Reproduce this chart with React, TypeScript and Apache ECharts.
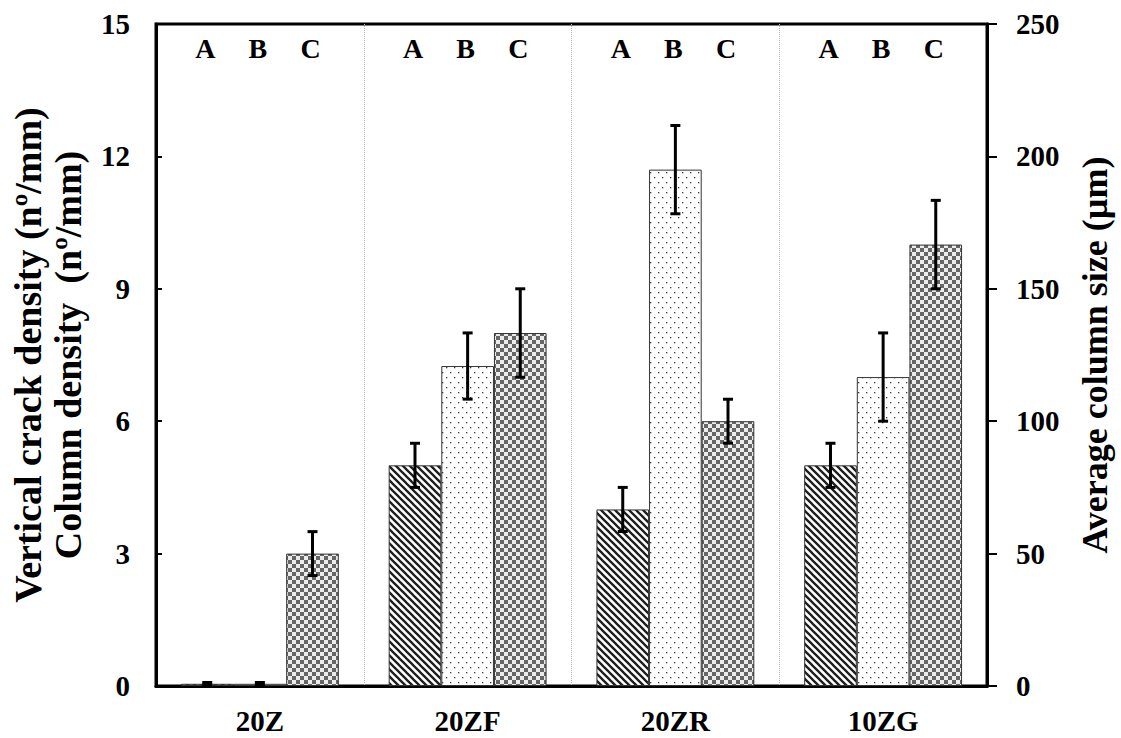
import React, { useEffect, useRef } from "react";
import * as echarts from "echarts";

const categories = ["20Z", "20ZF", "20ZR", "10ZG"];
const groupLetters = ["A", "B", "C"];
// A: vertical crack density (nº/mm), left axis
const crackDensity = [0.05, 5, 4, 5];
const crackDensityErr = [0.03, 0.5, 0.5, 0.5];
// B: column density (nº/mm), left axis
const columnDensity = [0.05, 7.25, 11.7, 7];
const columnDensityErr = [0.03, 0.75, 1, 1];
// C: average column size (µm), right axis
const columnSize = [50, 133.3, 100, 166.7];
const columnSizeErr = [8.3, 16.7, 8.3, 16.7];
const leftAxis = { min: 0, max: 15, interval: 3 };
const rightAxis = { min: 0, max: 250, interval: 50 };

const FONT = "Liberation Serif";
const CAT_GAP = 0.24;

function tile(w: number, h: number, draw: (g: CanvasRenderingContext2D) => void) {
  const c = document.createElement("canvas");
  c.width = w;
  c.height = h;
  const g = c.getContext("2d")!;
  draw(g);
  return c;
}

function hatchPattern() {
  const s = 7;
  return tile(s, s, (g) => {
    g.fillStyle = "#ffffff";
    g.fillRect(0, 0, s, s);
    g.strokeStyle = "#1e1e1e";
    g.lineWidth = 2.3;
    g.beginPath();
    g.moveTo(-1, -1);
    g.lineTo(s + 1, s + 1);
    g.moveTo(s - 1, -1);
    g.lineTo(2 * s + 1, s + 1);
    g.moveTo(-s - 1, -1);
    g.lineTo(1, s + 1);
    g.stroke();
  });
}

function dotPattern() {
  return tile(8, 10, (g) => {
    g.fillStyle = "#ffffff";
    g.fillRect(0, 0, 8, 10);
    g.fillStyle = "#3a3a3a";
    g.fillRect(2, 2, 1.3, 1.3);
    g.fillRect(6, 7, 1.3, 1.3);
  });
}

function checkerPattern() {
  return tile(8, 8, (g) => {
    g.fillStyle = "#ececec";
    g.fillRect(0, 0, 8, 8);
    g.fillStyle = "#666666";
    g.fillRect(0, 0, 4, 4);
    g.fillRect(4, 4, 4, 4);
  });
}

function errorSeries(values: number[], errs: number[], offset: number, yAxisIndex: number) {
  return {
    type: "custom",
    yAxisIndex,
    z: 10,
    clip: false,
    data: values.map((v, i) => [i, v, errs[i]]),
    renderItem: (_params: any, api: any) => {
      const i = api.value(0);
      const v = api.value(1);
      const e = api.value(2);
      const band = api.size([1, 0])[0];
      const barW = (band * (1 - CAT_GAP)) / 3;
      const cx = api.coord([i, v])[0] + offset * barW;
      const top = api.coord([i, v + e])[1];
      const bot = api.coord([i, Math.max(0, v - e)])[1];
      const cap = 5;
      const st = { stroke: "#000", lineWidth: 3 };
      return {
        type: "group",
        children: [
          { type: "line", shape: { x1: cx, y1: top, x2: cx, y2: bot }, style: st },
          { type: "line", shape: { x1: cx - cap, y1: top, x2: cx + cap, y2: top }, style: st },
          { type: "line", shape: { x1: cx - cap, y1: bot, x2: cx + cap, y2: bot }, style: st },
        ],
      };
    },
  };
}

export default function App() {
  const ref = useRef<HTMLDivElement>(null);
  useEffect(() => {
    document.body.style.margin = "0";
    const chart = echarts.init(ref.current!, null, { renderer: "svg" });
    const labelStyle = { fontFamily: FONT, fontWeight: "bold", fontSize: 29, color: "#000" };
    const barBase = {
      type: "bar",
      barGap: "0%",
      barCategoryGap: CAT_GAP * 100 + "%",
    };
    chart.setOption({
      animation: false,
      backgroundColor: "#fff",
      textStyle: { fontFamily: FONT },
      grid: {
        left: 153,
        right: 128,
        top: 24,
        bottom: 52,
        show: true,
        borderColor: "#000",
        borderWidth: 3,
        backgroundColor: "transparent",
      },
      xAxis: {
        type: "category",
        data: categories,
        axisLine: { lineStyle: { color: "#000", width: 3 } },
        axisTick: { inside: true, length: 8, lineStyle: { color: "#000", width: 3 } },
        axisLabel: { ...labelStyle, margin: 20 },
        splitLine: { show: true, lineStyle: { color: "#b5b5b5", type: "dotted", width: 1 } },
      },
      yAxis: [
        {
          type: "value",
          ...leftAxis,
          position: "left",
          name: "Vertical crack density (nº/mm)\nColumn density  (nº/mm)",
          nameLocation: "middle",
          nameRotate: 90,
          nameGap: 68,
          nameTextStyle: { fontFamily: FONT, fontWeight: "bold", fontSize: 38, lineHeight: 40, color: "#000" },
          axisLine: { show: true, lineStyle: { color: "#000", width: 3 } },
          axisTick: { show: true, inside: true, length: 6, lineStyle: { color: "#000", width: 2 } },
          axisLabel: { ...labelStyle, margin: 26 },
          splitLine: { show: false },
        },
        {
          type: "value",
          ...rightAxis,
          position: "right",
          name: "Average column size (µm)",
          nameLocation: "middle",
          nameRotate: 90,
          nameGap: 90,
          nameTextStyle: { fontFamily: FONT, fontWeight: "bold", fontSize: 36, color: "#000" },
          axisLine: { show: true, lineStyle: { color: "#000", width: 3 } },
          axisTick: { show: true, inside: false, length: 10, lineStyle: { color: "#000", width: 2 } },
          axisLabel: { ...labelStyle, margin: 29, align: "left" },
          splitLine: { show: false },
        },
      ],
      series: [
        {
          ...barBase,
          name: "A",
          yAxisIndex: 0,
          data: crackDensity,
          itemStyle: { color: { image: hatchPattern(), repeat: "repeat" }, borderColor: "#333", borderWidth: 1 },
        },
        {
          ...barBase,
          name: "B",
          yAxisIndex: 0,
          data: columnDensity,
          itemStyle: { color: { image: dotPattern(), repeat: "repeat" }, borderColor: "#333", borderWidth: 1 },
        },
        {
          ...barBase,
          name: "C",
          yAxisIndex: 1,
          data: columnSize,
          itemStyle: { color: { image: checkerPattern(), repeat: "repeat" }, borderColor: "#333", borderWidth: 1 },
        },
        errorSeries(crackDensity, crackDensityErr, -1, 0),
        errorSeries(columnDensity, columnDensityErr, 0, 0),
        errorSeries(columnSize, columnSizeErr, 1, 1),
        {
          type: "custom",
          yAxisIndex: 0,
          z: 11,
          clip: false,
          data: categories.map((_, i) => [i]),
          renderItem: (_params: any, api: any) => {
            const i = api.value(0);
            const band = api.size([1, 0])[0];
            const barW = (band * (1 - CAT_GAP)) / 3;
            const [x0, yTop] = api.coord([i, leftAxis.max]);
            return {
              type: "group",
              children: groupLetters.map((t, k) => ({
                type: "text",
                x: x0 + (k - 1) * barW - 2,
                y: yTop + 24,
                style: {
                  text: t,
                  fill: "#000",
                  fontFamily: FONT,
                  fontWeight: "bold",
                  fontSize: 28,
                  align: "center",
                  verticalAlign: "middle",
                },
              })),
            };
          },
        },
      ],
    });
    return () => chart.dispose();
  }, []);
  return <div ref={ref} style={{ width: 1121, height: 738 }} />;
}
